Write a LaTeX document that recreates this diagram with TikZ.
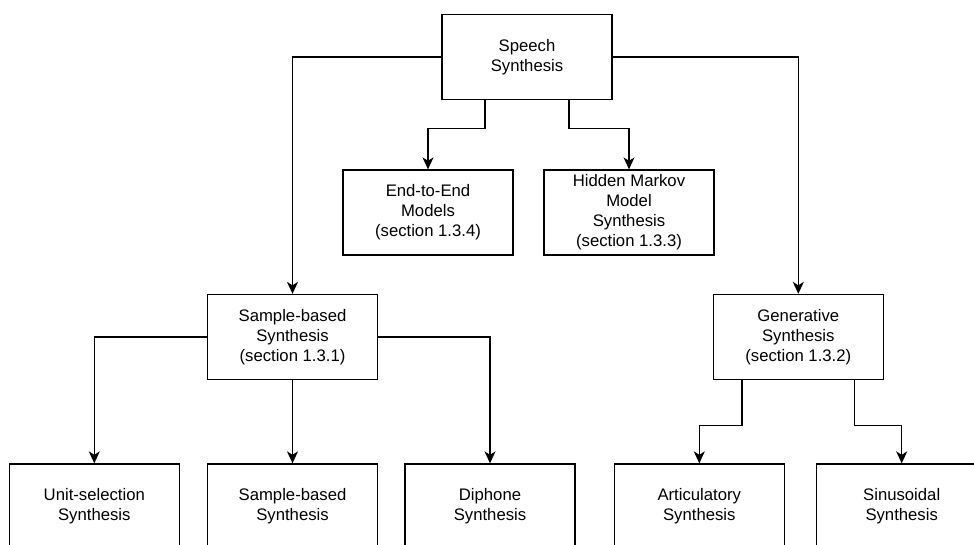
\documentclass[tikz,border=0pt]{standalone}
\usepackage{fontspec}
\setmainfont{Liberation Sans}
\usetikzlibrary{arrows.meta}

\tikzset{
  box/.style={draw, line width=1.3pt, fill=white, inner sep=0pt,
    minimum width=170pt, minimum height=85pt, align=center,
    font=\fontsize{16.7}{20}\selectfont},
  link/.style={line width=1.3pt, -{Stealth[length=12pt,width=11pt,inset=3.5pt]}},
}

\begin{document}
\begin{tikzpicture}[x=1pt,y=-1pt]
  \clip (0,0) rectangle (974,545);
  \fill[white] (0,0) rectangle (974,545);

  % root
  \node[box] (root) at (527,57) {Speech\\Synthesis};

  % second level
  \node[box] (e2e) at (428,212.5) {End-to-End\\Models\\(section 1.3.4)};
  \node[box] (hmm) at (629,212.5) {Hidden Markov\\Model\\Synthesis\\(section 1.3.3)};

  % main families
  \node[box] (sample) at (292.5,337) {Sample-based\\Synthesis\\(section 1.3.1)};
  \node[box] (gen) at (798.3,337) {Generative\\Synthesis\\(section 1.3.2)};

  % leaves
  \node[box] (unit) at (94.3,506.5) {Unit-selection\\Synthesis};
  \node[box] (sb) at (292.5,506.5) {Sample-based\\Synthesis};
  \node[box] (diph) at (490,506.5) {Diphone\\Synthesis};
  \node[box] (art) at (699.3,506.5) {Articulatory\\Synthesis};
  \node[box] (sin) at (901.7,506.5) {Sinusoidal\\Synthesis};

  % connectors from the root
  \draw[link] (root.west) -| (sample.north);
  \draw[link] (root.east) -| (gen.north);
  \coordinate (rl) at ([xshift=-42pt]root.south);
  \coordinate (rr) at ([xshift=42pt]root.south);
  \draw[link] (rl) -- ++(0,-28.7pt) -| (e2e.north);
  \draw[link] (rr) -- ++(0,-28.7pt) -| (hmm.north);

  % sample-based branches
  \draw[link] (sample.west) -| (unit.north);
  \draw[link] (sample.south) -- (sb.north);
  \draw[link] (sample.east) -| (diph.north);

  % generative branches
  \coordinate (gl) at ([xshift=-56.3pt]gen.south);
  \coordinate (gr) at ([xshift=56.4pt]gen.south);
  \draw[link] (gl) -- ++(0,-45pt) -| (art.north);
  \draw[link] (gr) -- ++(0,-45pt) -| (sin.north);
\end{tikzpicture}
\end{document}
